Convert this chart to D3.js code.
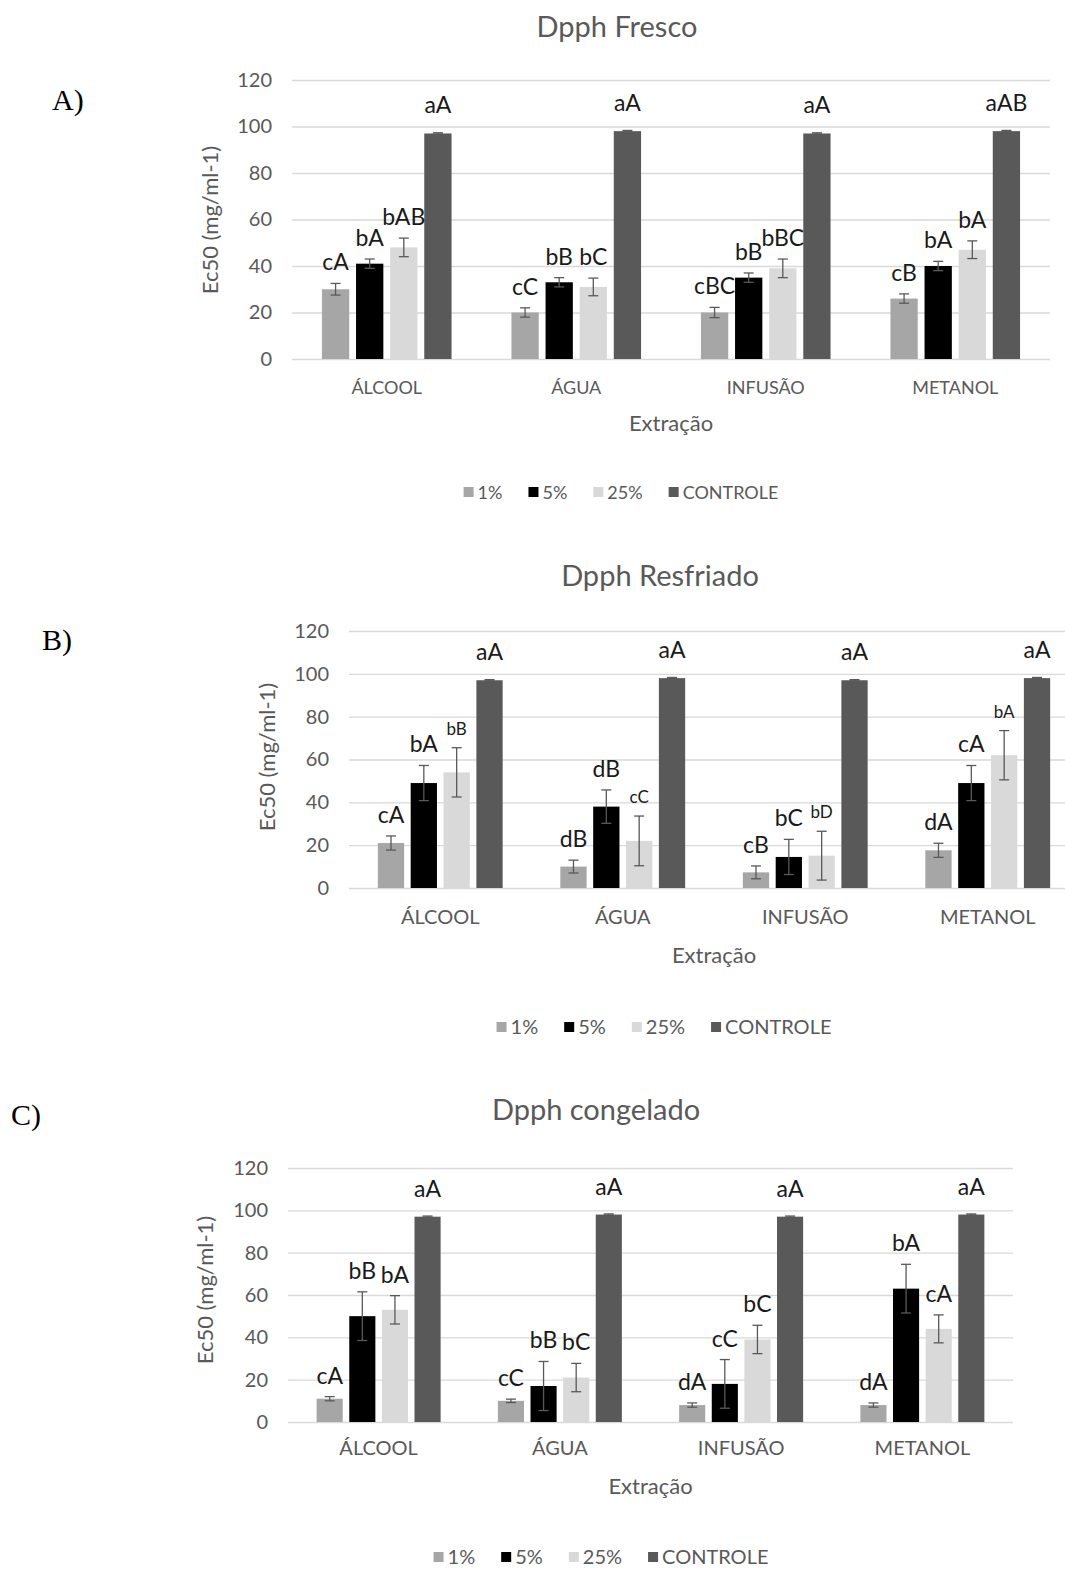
<!DOCTYPE html>
<html>
<head>
<meta charset="utf-8">
<script src="https://cdn.jsdelivr.net/npm/d3@7"></script>
<style>
  body { margin: 0; background: #fff; }
  text { font-family: Lato, "Noto Sans", sans-serif; }
</style>
</head>
<body>
<svg id="chart" width="1065" height="1573"></svg>
<script>
// categories and series
var categories = ["ÁLCOOL", "ÁGUA", "INFUSÃO", "METANOL"];
var series = ["1%", "5%", "25%", "CONTROLE"];
var colors = ["#a6a6a6", "#000000", "#d9d9d9", "#595959"];
var yTicks = [0, 20, 40, 60, 80, 100, 120];

// values per category, in series order
var frescoMeans   = [[30, 41, 48, 97], [20, 33, 31, 98], [20, 35, 39, 97], [26, 40, 47, 98]];
var frescoErrors  = [[2.5, 2, 4, 0.3], [2, 2, 3.8, 0.3], [2.2, 2, 4, 0.3], [2, 2, 3.8, 0.3]];
var frescoLetters = [["cA", "bA", "bAB", "aA"], ["cC", "bB", "bC", "aA"], ["cBC", "bB", "bBC", "aA"], ["cB", "bA", "bA", "aAB"]];

var resfriadoMeans   = [[21, 49, 54, 97], [10, 38, 22, 98], [7.3, 14.5, 15.1, 97], [17.6, 49, 62, 98]];
var resfriadoErrors  = [[3.3, 8.2, 11.5, 0.3], [3, 7.8, 11.6, 0.3], [3, 8.2, 11.4, 0.3], [3.3, 8.2, 11.5, 0.3]];
var resfriadoLetters = [["cA", "bA", "bB", "aA"], ["dB", "dB", "cC", "aA"], ["cB", "bC", "bD", "aA"], ["dA", "cA", "bA", "aA"]];

var congeladoMeans   = [[11, 50, 53, 97], [10, 17, 21, 98], [8, 18, 39, 97], [8, 63, 44, 98]];
var congeladoErrors  = [[1, 11.5, 6.7, 0.3], [0.8, 11.6, 6.7, 0.3], [1, 11.5, 6.7, 0.3], [1, 11.5, 6.6, 0.3]];
var congeladoLetters = [["cA", "bB", "bA", "aA"], ["cC", "bB", "bC", "aA"], ["dA", "cC", "bC", "aA"], ["dA", "bA", "cA", "aA"]];

var svg = d3.select("#chart");

var panels = [
  { tag: "A)", tagX: 52, tagY: 110, title: "Dpph Fresco", titleX: 617, titleY: 37,
    left: 292, right: 1050, top: 80, bottom: 359, fs: 18, catY: 394, xtY: 431, ytX: 218, ytY: 220,
    legX: 621, legY: 492, small: false,
    means: frescoMeans, errors: frescoErrors, letters: frescoLetters },
  { tag: "B)", tagX: 42, tagY: 650, title: "Dpph Resfriado", titleX: 660, titleY: 586,
    left: 349, right: 1079, top: 631, bottom: 888, fs: 20, catY: 924, xtY: 963, ytX: 275, ytY: 757,
    legX: 664, legY: 1027, small: true,
    means: resfriadoMeans, errors: resfriadoErrors, letters: resfriadoLetters },
  { tag: "C)", tagX: 11, tagY: 1125, title: "Dpph congelado", titleX: 596, titleY: 1120,
    left: 288, right: 1013, top: 1168, bottom: 1422, fs: 20, catY: 1455, xtY: 1494, ytX: 213, ytY: 1290,
    legX: 601, legY: 1557, small: false,
    means: congeladoMeans, errors: congeladoErrors, letters: congeladoLetters }
];

panels.forEach(function(p) {
  var g = svg.append("g");

  var y = d3.scaleLinear().domain([0, 120]).range([p.bottom, p.top]);
  var x0 = d3.scaleBand().domain(categories).range([p.left, p.right])
    .paddingInner(0.28).paddingOuter(0.14);
  var x1 = d3.scaleBand().domain(series).range([0, x0.bandwidth()])
    .paddingInner(0.2).paddingOuter(0.1);

  // gridlines + tick labels
  var yAxis = g.append("g")
    .attr("transform", "translate(" + p.left + ",0)")
    .call(d3.axisLeft(y).tickValues(yTicks).tickSize(-(p.right - p.left)).tickPadding(20));
  yAxis.select(".domain").remove();
  yAxis.selectAll(".tick line").attr("stroke", "#d9d9d9").attr("stroke-width", 1.3);
  yAxis.selectAll(".tick text").attr("fill", "#595959").style("font-size", "20px");

  // category labels
  g.selectAll(".cat").data(categories).enter().append("text")
    .attr("x", function(d) { return x0(d) + x0.bandwidth() / 2; })
    .attr("y", p.catY)
    .attr("text-anchor", "middle")
    .attr("fill", "#595959")
    .style("font-size", p.fs + "px")
    .text(function(d) { return d; });

  var rows = [];
  categories.forEach(function(c, i) {
    series.forEach(function(s, j) {
      rows.push({ cat: c, ser: s, j: j, v: p.means[i][j], e: p.errors[i][j], lab: p.letters[i][j] });
    });
  });

  // bars
  g.selectAll(".bar").data(rows).enter().append("rect")
    .attr("x", function(d) { return x0(d.cat) + x1(d.ser); })
    .attr("y", function(d) { return y(d.v); })
    .attr("width", x1.bandwidth())
    .attr("height", function(d) { return y(0) - y(d.v); })
    .attr("fill", function(d) { return colors[d.j]; });

  // error bars
  var eb = g.selectAll(".err").data(rows).enter().append("g")
    .attr("stroke", "#595959").attr("stroke-width", 1.3);
  eb.append("line")
    .attr("x1", function(d) { return x0(d.cat) + x1(d.ser) + x1.bandwidth() / 2; })
    .attr("x2", function(d) { return x0(d.cat) + x1(d.ser) + x1.bandwidth() / 2; })
    .attr("y1", function(d) { return y(d.v - d.e); })
    .attr("y2", function(d) { return y(d.v + d.e); });
  [1, -1].forEach(function(sg) {
    eb.append("line")
      .attr("x1", function(d) { return x0(d.cat) + x1(d.ser) + x1.bandwidth() / 2 - 5; })
      .attr("x2", function(d) { return x0(d.cat) + x1(d.ser) + x1.bandwidth() / 2 + 5; })
      .attr("y1", function(d) { return y(d.v + sg * d.e); })
      .attr("y2", function(d) { return y(d.v + sg * d.e); });
  });

  // letters
  g.selectAll(".lab").data(rows).enter().append("text")
    .attr("x", function(d) { return x0(d.cat) + x1(d.ser) + x1.bandwidth() / 2; })
    .attr("y", function(d) { return d.j === 3 ? y(d.v) - 20 : y(d.v + d.e) - 13; })
    .attr("text-anchor", "middle")
    .attr("fill", "#1a1a1a")
    .style("font-size", function(d) { return (p.small && d.j === 2) ? "17px" : "23px"; })
    .text(function(d) { return d.lab; });

  // titles
  g.append("text").attr("x", p.titleX).attr("y", p.titleY).attr("text-anchor", "middle")
    .attr("fill", "#595959").style("font-size", "29px").text(p.title);
  g.append("text").attr("x", (p.left + Math.min(p.right, 1065 + 14)) / 2).attr("y", p.xtY)
    .attr("text-anchor", "middle").attr("fill", "#595959").style("font-size", "22px").text("Extração");
  g.append("text").attr("transform", "translate(" + p.ytX + "," + p.ytY + ") rotate(-90)")
    .attr("text-anchor", "middle").attr("fill", "#595959").style("font-size", "22px").text("Ec50 (mg/ml-1)");
  g.append("text").attr("x", p.tagX).attr("y", p.tagY)
    .style("font-family", "'Liberation Serif', 'DejaVu Serif', serif").style("font-size", "30px")
    .attr("fill", "#000").text(p.tag);

  // legend
  var leg = g.append("g");
  var cx = 0;
  series.forEach(function(s, j) {
    leg.append("rect").attr("x", cx).attr("y", p.legY - 5).attr("width", 10).attr("height", 10).attr("fill", colors[j]);
    var t = leg.append("text").attr("x", cx + 14).attr("y", p.legY + 7)
      .attr("fill", "#595959").style("font-size", p.fs + "px").text(s);
    cx += 14 + t.node().getComputedTextLength() + 26;
  });
  cx -= 26;
  leg.attr("transform", "translate(" + (p.legX - cx / 2) + ",0)");
});
</script>
</body>
</html>
